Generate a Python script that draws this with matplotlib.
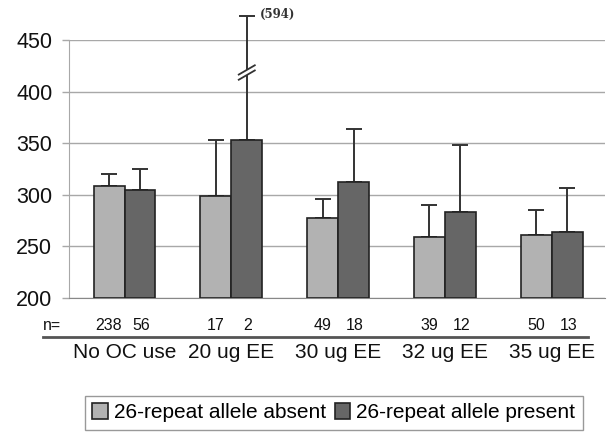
import matplotlib
matplotlib.use("Agg")
import matplotlib.pyplot as plt
import matplotlib.transforms as mtransforms
from matplotlib.patches import Polygon
from matplotlib.lines import Line2D

# ---- data ----
groups = ["No OC use", "20 ug EE", "30 ug EE", "32 ug EE", "35 ug EE"]
series_names = ["26-repeat allele absent", "26-repeat allele present"]
absent_mean = [309, 299, 278, 259, 261]
absent_err = [11, 54, 18, 31, 24]
present_mean = [305, 353, 312, 283, 264]
present_err = [20, 120, 52, 65, 43]
n_absent = [238, 17, 49, 39, 50]
n_present = [56, 2, 18, 12, 13]
yticks = [200, 250, 300, 350, 400, 450]
broken_label = "(594)"

plt.rcParams['font.family'] = ['Liberation Sans', 'DejaVu Sans']

W, H = 611, 432
fig = plt.figure(figsize=(W / 100, H / 100), dpi=100)
ax = fig.add_axes([69 / W, 1 - 298 / H, (605 - 69) / W, (298 - 40) / H])

light = "#b2b2b2"
dark = "#666666"
bw = 0.29
x = list(range(len(groups)))
xa = [c - bw / 2 for c in x]
xp = [c + bw / 2 for c in x]

ax.bar(xa, [m - 200 for m in absent_mean], bottom=200, width=bw, color=light,
       edgecolor="#222222", linewidth=1.2, zorder=3, label=series_names[0])
ax.bar(xp, [m - 200 for m in present_mean], bottom=200, width=bw, color=dark,
       edgecolor="#222222", linewidth=1.2, zorder=3, label=series_names[1])

for xs, ms, es in ((xa, absent_mean, absent_err), (xp, present_mean, present_err)):
    ax.errorbar(xs, ms, yerr=[[0] * len(ms), es], fmt="none", ecolor="#333333",
                elinewidth=1.4, capsize=6, capthick=1.4, zorder=2, clip_on=False)

# broken error bar marks on the 20 ug EE present bar
cx = xp[1]
dx = 0.075
ax.add_patch(Polygon([[cx - dx, 411.5], [cx + dx, 420.5], [cx + dx, 425.5], [cx - dx, 416.5]],
                     closed=True, facecolor="white", edgecolor="none", zorder=4, clip_on=False))
for yc in (416, 421):
    ax.plot([cx - dx, cx + dx], [yc - 4.5, yc + 4.5], color="#333333", lw=1.3,
            zorder=5, clip_on=False)
ax.text(cx + 0.12, present_mean[1] + present_err[1] + 2, broken_label, fontsize=8.5,
        family="DejaVu Serif", fontweight="bold", color="#333333", ha="left", va="center")

ax.set_xlim(-0.52, 4.5)
ax.set_ylim(200, 450)
ax.set_yticks(yticks)
ax.set_xticks([])
ax.grid(axis="y", color="#a8a8a8", linewidth=1.0, zorder=0)
ax.tick_params(axis="y", length=5, width=1, color="#a8a8a8", pad=7, labelsize=15.5,
               labelcolor="#111111")
for s in ("top", "right"):
    ax.spines[s].set_visible(False)
ax.spines["left"].set_color("#a8a8a8")
ax.spines["bottom"].set_color("#888888")

# n counts and group labels
trans = mtransforms.blended_transform_factory(ax.transData, fig.transFigure)
fig.text(43 / W, 1 - 325 / H, "n=", fontsize=11.5, ha="left", va="center", color="#111111")
for i in range(len(groups)):
    ax.text(xa[i], 1 - 325 / H, str(n_absent[i]), transform=trans, fontsize=11.5,
            ha="center", va="center", color="#111111")
    ax.text(xp[i] + 0.01, 1 - 325 / H, str(n_present[i]), transform=trans, fontsize=11.5,
            ha="center", va="center", color="#111111")
    ax.text(x[i], 1 - 352 / H, groups[i], transform=trans, fontsize=15,
            ha="center", va="center", color="#111111")
fig.add_artist(Line2D([43 / W, 588 / W], [1 - 337 / H, 1 - 337 / H], color="#555555", lw=2))

leg = fig.legend(loc="upper left", bbox_to_anchor=(85 / W, 1 - 396 / H), ncol=2,
                 fontsize=15, handlelength=0.75, handleheight=0.75, handletextpad=0.3,
                 columnspacing=0.4, borderpad=0.35, borderaxespad=0, fancybox=False,
                 edgecolor="#999999", framealpha=1)
leg.get_frame().set_linewidth(1.0)

fig.savefig("out.png", dpi=100)
